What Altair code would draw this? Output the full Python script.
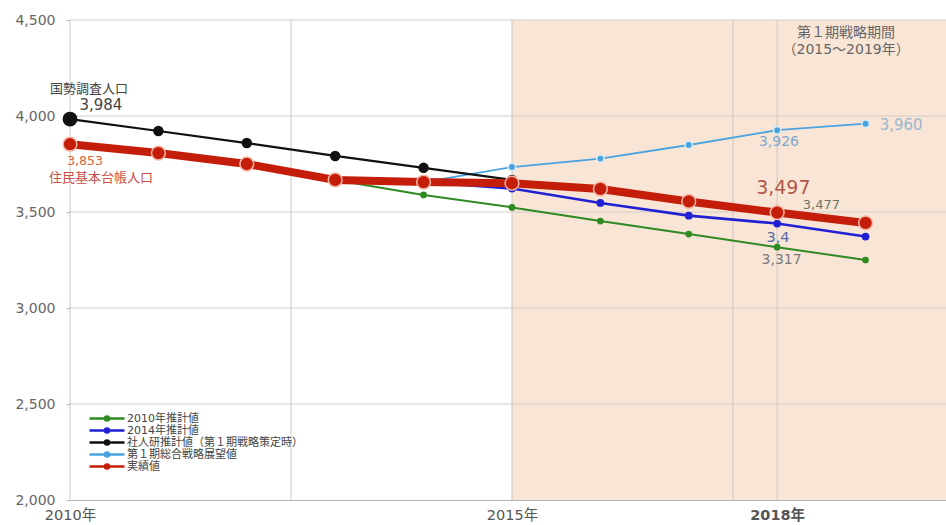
import altair as alt
import pandas as pd

FONT = "DejaVu Sans, Noto Sans CJK JP"

# ---- data ----
series_names = ["2010年推計値", "2014年推計値", "社人研推計値（第１期戦略策定時）", "第１期総合戦略展望値", "実績値"]
series_colors = ["#2f8a22", "#2121d4", "#111111", "#4aa3df", "#c41e0a"]

black_years = [2010, 2011, 2012, 2013, 2014, 2015]
black_vals = [3984, 3922, 3859, 3792, 3730, 3667]

red_years = [2010, 2011, 2012, 2013, 2014, 2015, 2016, 2017, 2018, 2019]
red_vals = [3853, 3807, 3750, 3667, 3656, 3650, 3620, 3555, 3497, 3443]

green_years = [2013, 2014, 2015, 2016, 2017, 2018, 2019]
green_vals = [3667, 3589, 3524, 3453, 3385, 3317, 3250]

blue_years = [2014, 2015, 2016, 2017, 2018, 2019]
blue_vals = [3656, 3622, 3547, 3481, 3440, 3372]

lblue_years = [2014, 2015, 2016, 2017, 2018, 2019]
lblue_vals = [3656, 3734, 3778, 3849, 3926, 3960]

period_start = [2015]
period_end = [2020]

x_label_values = [2010, 2015, 2018]
x_grid_values = [2010, 2012.5, 2015, 2017.5, 2018]
y_tick_values = [2000, 2500, 3000, 3500, 4000, 4500]

ann_text = ["国勢調査人口", "3,984", "3,853", "住民基本台帳人口", "第１期戦略期間", "（2015～2019年）",
            "3,960", "3,926", "3,497", "3,477", "3,4", "3,317"]
ann_x = [2010.215, 2010.35, 2010.17, 2010.35, 2018.78, 2018.78, 2019.16, 2018.02, 2018.07, 2018.50, 2018.01, 2018.05]
ann_y = [4142, 4055, 3766, 3677, 4432, 4344, 3953, 3865, 3625, 3536, 3365, 3250]
ann_color = ["#444444", "#444444", "#d9643c", "#c8504a", "#666666", "#666666",
             "#9bb7cf", "#7fa9cf", "#b0584a", "#6b7560", "#5b6aa8", "#7a7a7a"]
ann_size = [13, 15, 12.5, 13, 14, 14, 15, 14, 19, 13, 14.5, 14]
ann_align = ["center", "center", "center", "center", "center", "center",
             "left", "center", "center", "center", "center", "center"]

# ---- tables ----
def series_df(name, yrs, vals):
    return pd.DataFrame({"series": name, "year": yrs, "value": vals})

tables = {
    "2010年推計値": series_df("2010年推計値", green_years, green_vals),
    "2014年推計値": series_df("2014年推計値", blue_years, blue_vals),
    "社人研推計値（第１期戦略策定時）": series_df("社人研推計値（第１期戦略策定時）", black_years, black_vals),
    "第１期総合戦略展望値": series_df("第１期総合戦略展望値", lblue_years, lblue_vals),
    "実績値": series_df("実績値", red_years, red_vals),
}

XMAX = 2019.91
xscale = alt.Scale(domain=[2010, XMAX], nice=False, zero=False)
yscale = alt.Scale(domain=[2000, 4500], nice=False, zero=False)

x_enc = alt.X("year:Q", scale=xscale, title=None,
              axis=alt.Axis(values=x_label_values, grid=False, ticks=False, domain=True,
                            domainColor="#b5b5b5", labelColor="#555555", labelFontSize=14.5,
                            labelFont=FONT, labelPadding=8, labelFlush=False,
                            labelExpr="datum.value + '年'",
                            labelFontWeight={"condition": {"test": "datum.value == 2018", "value": "bold"}, "value": "normal"}))
y_enc = alt.Y("value:Q", scale=yscale, title=None,
              axis=alt.Axis(values=y_tick_values, grid=False, domain=False, ticks=True, tickSize=4,
                            tickColor="#b5b5b5", labelColor="#666666", labelFontSize=14,
                            labelFont=FONT, labelPadding=11, format=",.0f"))

color_enc = alt.Color("series:N", scale=alt.Scale(domain=series_names, range=series_colors),
                      legend=alt.Legend(title=None, orient="none", legendX=18, legendY=394,
                                        symbolType="M-1,0H7.75M2.875,0a0.5,0.5 0 1,0 1,0a0.5,0.5 0 1,0 -1,0",
                                        symbolSize=64, symbolStrokeWidth=2.5, labelOffset=28,
                                        labelFont=FONT, labelFontSize=11, labelColor="#444444",
                                        labelLimit=0, rowPadding=0, clipHeight=9, padding=0))

# shaded period
period_df = pd.DataFrame({"start": period_start, "end": period_end})
shade = alt.Chart(period_df).mark_rect(color="#f8e5d6", clip=True).encode(
    x=alt.X("start:Q", scale=xscale),
    x2="end:Q",
    y=alt.value(0),
    y2=alt.value(480),
)

# grid rules
vgrid = alt.Chart(pd.DataFrame({"g": x_grid_values})).mark_rule(color="#cdc6c0", strokeWidth=1).encode(
    x=alt.X("g:Q", scale=xscale))
hgrid = alt.Chart(pd.DataFrame({"g": y_tick_values[1:]})).mark_rule(color="#d2cdc8", strokeWidth=1).encode(
    y=alt.Y("g:Q", scale=yscale))

styles = {
    "第１期総合戦略展望値": dict(sw=1.8, size=55, halo="#d8ecf8", hw=1.5),
    "2010年推計値": dict(sw=2, size=45, halo="#2f8a22", hw=0),
    "2014年推計値": dict(sw=2.6, size=60, halo="#2121d4", hw=0),
    "社人研推計値（第１期戦略策定時）": dict(sw=2.2, size=110, halo="#111111", hw=0),
    "実績値": dict(sw=8, size=190, halo="#f4b8a8", hw=1.5),
}
order = ["第１期総合戦略展望値", "2010年推計値", "2014年推計値", "社人研推計値（第１期戦略策定時）", "実績値"]

layers = [shade, vgrid, hgrid]
for i, name in enumerate(order):
    st = styles[name]
    base = alt.Chart(tables[name])
    line = base.mark_line(strokeWidth=st["sw"]).encode(x=x_enc, y=y_enc, color=color_enc)
    pts = base.mark_point(filled=True, opacity=1, size=st["size"], stroke=st["halo"],
                          strokeWidth=st["hw"]).encode(x=x_enc, y=y_enc, color=color_enc)
    layers += [line, pts]

# larger first point for census population
first_black = alt.Chart(tables["社人研推計値（第１期戦略策定時）"].iloc[:1]).mark_point(
    filled=True, opacity=1, size=220, color="#111111").encode(x=x_enc, y=y_enc)
layers.append(first_black)

ann_df = pd.DataFrame({"text": ann_text, "x": ann_x, "y": ann_y})
for i in range(len(ann_df)):
    r = ann_df.iloc[[i]]
    t = alt.Chart(r).mark_text(font=FONT, fontSize=float(ann_size[i]), color=ann_color[i],
                               align=ann_align[i], baseline="middle").encode(
        x=alt.X("x:Q", scale=xscale), y=alt.Y("y:Q", scale=yscale), text="text:N")
    layers.append(t)

chart = alt.layer(*layers).properties(
    width=876, height=480,
    autosize=alt.AutoSizeParams(type="none"),
    padding={"left": 70, "top": 20, "right": 0, "bottom": 25},
    background="white",
).configure_view(stroke=None)

chart.save("out.html", embed_options={"renderer": "svg", "actions": False})
